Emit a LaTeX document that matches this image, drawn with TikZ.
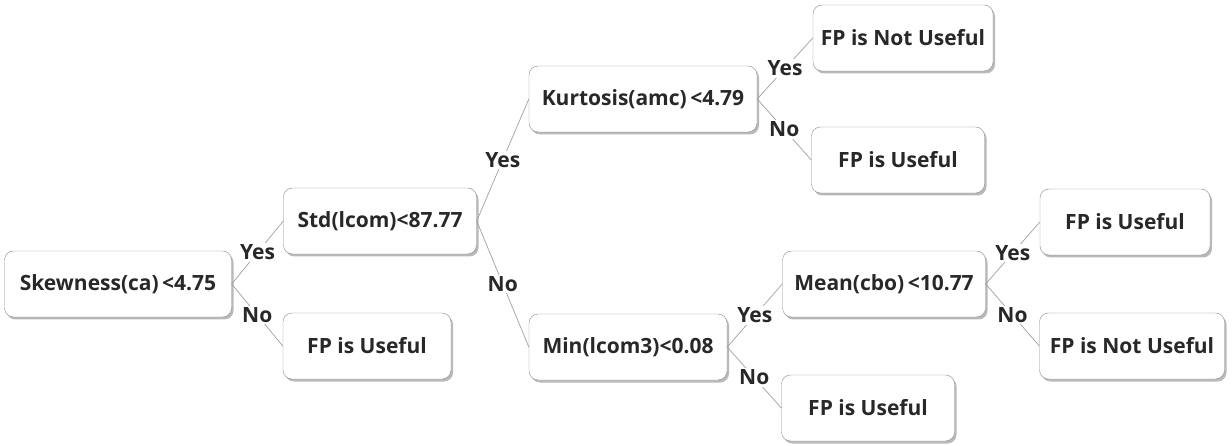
\documentclass[tikz,border=0pt]{standalone}
\usepackage{fontspec}
\setmainfont{Open Sans}
\usetikzlibrary{positioning, shadows}
\definecolor{boxline}{RGB}{140,140,140}
\definecolor{wireline}{RGB}{160,160,160}
\definecolor{textgray}{RGB}{40,40,40}

\begin{document}
\begin{tikzpicture}[
        x=1pt, y=-1pt,
        treebox/.style={draw=boxline, fill=white, rounded corners=9pt, minimum height=66pt,
            inner xsep=3pt, font=\fontsize{21}{24}\selectfont\bfseries, text=textgray,
            drop shadow={shadow xshift=2pt, shadow yshift=-2.5pt, fill=black!55}},
        wire/.style={draw=wireline, line width=0.7pt},
        answer/.style={fill=white, inner sep=1.5pt, font=\fontsize{21}{24}\selectfont\bfseries, text=textgray}
    ]
        \useasboundingbox (0,0) rectangle (1232,446);

        % Decision nodes
        \node[treebox, minimum width=227pt] (skew) at (118, 284) {Skewness(ca)\,<4.75};
        \node[treebox, minimum width=193pt] (std) at (380, 221) {Std(lcom)<87.77};
        \node[treebox, minimum width=228pt] (kurt) at (643, 99) {Kurtosis(amc)\,<4.79};
        \node[treebox, minimum width=198pt] (minl) at (628, 347) {Min(lcom3)<0.08};
        \node[treebox, minimum width=203pt] (mean) at (884, 284) {Mean(cbo)\,<10.77};

        % Leaves
        \node[treebox, minimum width=168pt] (leafa) at (367, 346) {FP is Useful};
        \node[treebox, minimum width=180pt] (leafb) at (903, 38) {FP is Not Useful};
        \node[treebox, minimum width=173pt] (leafc) at (898, 160) {FP is Useful};
        \node[treebox, minimum width=170pt] (leafd) at (1125, 222) {FP is Useful};
        \node[treebox, minimum width=185pt] (leafe) at (1132, 346) {FP is Not Useful};
        \node[treebox, minimum width=173pt] (leaff) at (868, 408) {FP is Useful};

        % Branches
        \draw[wire] (skew.east) -- node[answer] {Yes} (std.west);
        \draw[wire] (skew.east) -- node[answer] {No} (leafa.west);
        \draw[wire] (std.east) -- node[answer] {Yes} (kurt.west);
        \draw[wire] (std.east) -- node[answer] {No} (minl.west);
        \draw[wire] (kurt.east) -- node[answer] {Yes} (leafb.west);
        \draw[wire] (kurt.east) -- node[answer] {No} (leafc.west);
        \draw[wire] (minl.east) -- node[answer] {Yes} (mean.west);
        \draw[wire] (minl.east) -- node[answer] {No} (leaff.west);
        \draw[wire] (mean.east) -- node[answer] {Yes} (leafd.west);
        \draw[wire] (mean.east) -- node[answer] {No} (leafe.west);
    \end{tikzpicture}
\end{document}
